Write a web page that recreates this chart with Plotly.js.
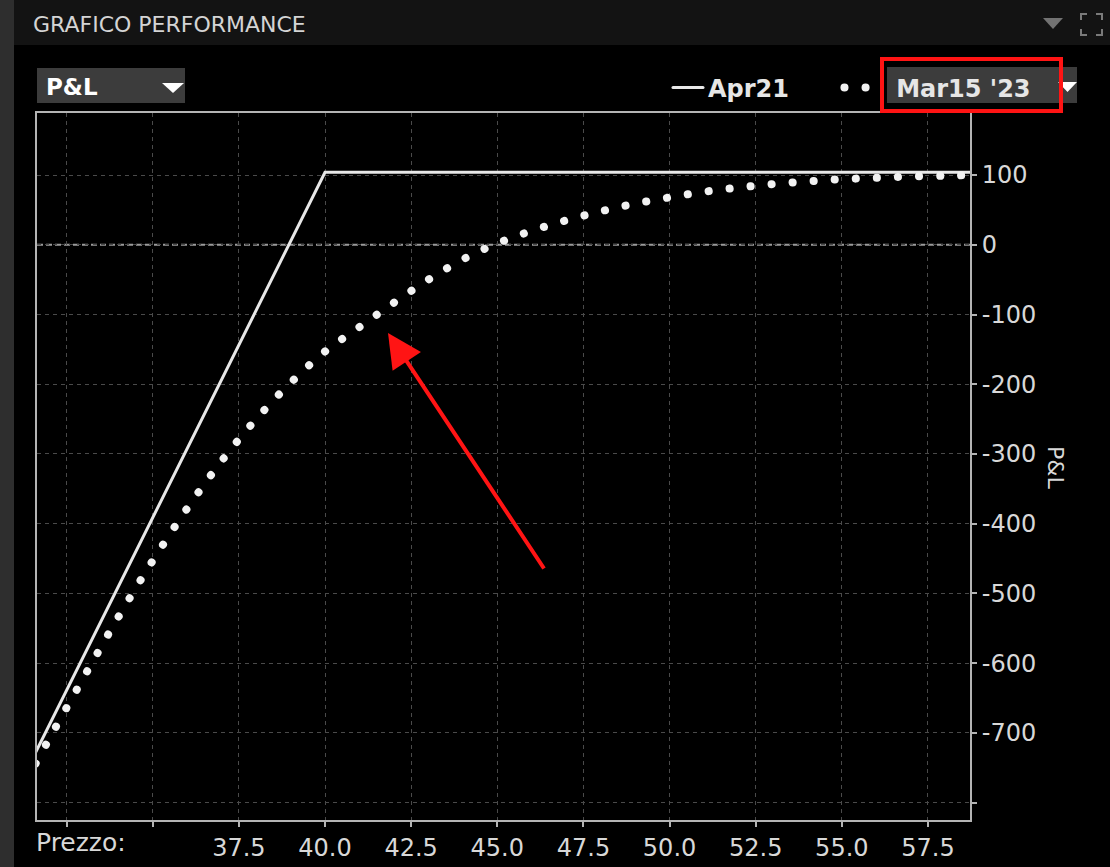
<!DOCTYPE html>
<html><head><meta charset="utf-8">
<script src="https://cdn.plot.ly/plotly-3.0.1.min.js"></script>
<style>
html,body{margin:0;padding:0;background:#000;overflow:hidden;}
#chart{width:1110px;height:867px;}
.scatterlayer .js-line, .legendlines path{stroke-linecap:round;}
</style></head><body><div id="chart"></div>
<script>
// ---- data ----
const seriesNames = ["Apr21", "Mar15 '23"];
const priceApr = [31.6, 40, 58.8];
const plApr = [-728, 104, 104];
const priceMar = [31.6, 32, 33, 34, 35, 36, 37, 38, 39, 40, 41, 42, 43, 44, 45, 46, 47, 48, 49, 50, 51, 52, 53, 54, 55, 56, 57, 58, 58.8];
const plMar = [-744, -708, -620, -534, -453, -378, -310, -250, -198, -153, -118, -83, -50, -21, 2, 20, 35, 48, 59, 68, 76, 82, 87, 91, 94, 96, 98, 99, 100];
const xTickVals = [32.5, 35, 37.5, 40, 42.5, 45, 47.5, 50, 52.5, 55, 57.5];
const xTickText = ["", "", "37.5", "40.0", "42.5", "45.0", "47.5", "50.0", "52.5", "55.0", "57.5"];
const yTickVals = [100, 0, -100, -200, -300, -400, -500, -600, -700, -800];
const yTickText = ["100", "0", "-100", "-200", "-300", "-400", "-500", "-600", "-700", ""];
const panelTitle = "GRAFICO PERFORMANCE";
const dropdownText = "P&L";
const xLabel = "Prezzo:";
const yLabel = "P&L";

// ---- layout helpers (pixel -> paper) ----
const L = 37, R = 970, T = 113, B = 820;
const xp = px => (px - L) / (R - L);
const yp = py => (B - py) / (B - T);
const tri = (x1, x2, y1, y2) => `M${xp(x1)},${yp(y1)} L${xp(x2)},${yp(y1)} L${xp((x1 + x2) / 2)},${yp(y2)} Z`;
const FONT = "DejaVu Sans";
const NBSP = "\u00a0";
const ENSP = "\u2002";

const traces = [
  {x: priceApr, y: plApr, name: seriesNames[0] + NBSP.repeat(4) + ENSP, mode: "lines", type: "scatter",
   line: {color: "#e8e8e8", width: 3}},
  {x: priceMar, y: plMar, name: NBSP + NBSP + seriesNames[1], mode: "lines", type: "scatter",
   line: {color: "#f2f2f2", width: 8, dash: "0.1px,21px", shape: "spline", smoothing: 1}}
];

const axisCommon = {
  showline: true, linecolor: "#b4b4b4", linewidth: 2, mirror: true,
  ticks: "outside", ticklen: 5, tickwidth: 2, tickcolor: "#b4b4b4",
  showgrid: true, gridcolor: "#4a4a4a", gridwidth: 1, griddash: "4px,4px",
  zeroline: false, fixedrange: true,
  tickfont: {family: FONT, size: 24, color: "#d8d8d8"}
};

const layout = {
  width: 1110, height: 867,
  paper_bgcolor: "#000", plot_bgcolor: "#000",
  margin: {l: L, r: 1110 - R, t: T, b: 867 - B, pad: 0},
  font: {family: FONT, color: "#d8d8d8"},
  xaxis: Object.assign({}, axisCommon, {range: [31.64, 58.72], tickmode: "array", tickvals: xTickVals, ticktext: xTickText}),
  yaxis: Object.assign({}, axisCommon, {side: "right", range: [-825, 189], tickmode: "array", tickvals: yTickVals, ticktext: yTickText}),
  showlegend: true,
  legend: {orientation: "h", x: xp(668), xanchor: "left", y: yp(88), yanchor: "middle",
    bgcolor: "rgba(0,0,0,0)", borderwidth: 0,
    font: {family: FONT, size: 24, color: "#e6e6e6", weight: "bold"}},
  shapes: [
    // left strip and header bar
    {type: "rect", xref: "paper", yref: "paper", layer: "below", x0: xp(0), x1: xp(14), y0: yp(867), y1: yp(0), fillcolor: "#2e2e2e", line: {width: 0}},
    {type: "rect", xref: "paper", yref: "paper", layer: "below", x0: xp(14), x1: xp(1110), y0: yp(45), y1: yp(0), fillcolor: "#131313", line: {width: 0}},
    // header icons
    {type: "path", xref: "paper", yref: "paper", path: tri(1043, 1063, 18, 29), fillcolor: "#727272", line: {width: 0}},
    {type: "path", xref: "paper", yref: "paper",
     path: `M${xp(1081)},${yp(20)} L${xp(1081)},${yp(14)} L${xp(1087)},${yp(14)} M${xp(1096)},${yp(14)} L${xp(1102)},${yp(14)} L${xp(1102)},${yp(20)} M${xp(1081)},${yp(29)} L${xp(1081)},${yp(35)} L${xp(1087)},${yp(35)} M${xp(1096)},${yp(35)} L${xp(1102)},${yp(35)} L${xp(1102)},${yp(29)}`,
     line: {color: "#7a7a7a", width: 2}},
    // P&L dropdown
    {type: "rect", xref: "paper", yref: "paper", x0: xp(37), x1: xp(185), y0: yp(103), y1: yp(68), fillcolor: "#3c3c3c", line: {width: 0}},
    {type: "path", xref: "paper", yref: "paper", path: tri(162, 184, 83, 93), fillcolor: "#ffffff", line: {width: 0}},
    // date dropdown
    {type: "rect", xref: "paper", yref: "paper", x0: xp(887), x1: xp(1077), y0: yp(103), y1: yp(67), fillcolor: "#3c3c3c", line: {width: 0}},
    {type: "path", xref: "paper", yref: "paper", path: tri(1058, 1077, 82, 92), fillcolor: "#ffffff", line: {width: 0}},
    // zero reference line
    {type: "line", xref: "paper", yref: "y", x0: 0, x1: 1, y0: 0, y1: 0, layer: "below", line: {color: "#9a9a9a", width: 2, dash: "6px,3px"}},
    // red highlight box
    {type: "rect", xref: "paper", yref: "paper", x0: xp(882), x1: xp(1061), y0: yp(111), y1: yp(59), line: {color: "#ff1414", width: 4}}
  ],
  annotations: [
    {xref: "paper", yref: "paper", x: xp(31), y: yp(25), xanchor: "left", yanchor: "middle", showarrow: false,
     text: panelTitle, font: {family: FONT, size: 22, color: "#d4d4d4"}},
    {xref: "paper", yref: "paper", x: xp(44), y: yp(87), xanchor: "left", yanchor: "middle", showarrow: false,
     text: dropdownText, font: {family: FONT, size: 23, color: "#ffffff", weight: "bold"}},
    {xref: "paper", yref: "paper", x: xp(34), y: yp(843), xanchor: "left", yanchor: "middle", showarrow: false,
     text: xLabel, font: {family: FONT, size: 25, color: "#d8d8d8"}},
    {xref: "paper", yref: "paper", x: xp(1056), y: yp(467), xanchor: "center", yanchor: "middle", showarrow: false,
     text: yLabel, textangle: 90, font: {family: FONT, size: 22, color: "#d8d8d8"}},
    {xref: "paper", yref: "paper", x: xp(388), y: yp(333), ax: 157, ay: 237, axref: "pixel", ayref: "pixel",
     text: "", showarrow: true, arrowhead: 2, arrowsize: 1.7, arrowwidth: 4, arrowcolor: "#ff1414"}
  ]
};

Plotly.newPlot("chart", traces, layout, {displayModeBar: false, staticPlot: true});
</script></body></html>
